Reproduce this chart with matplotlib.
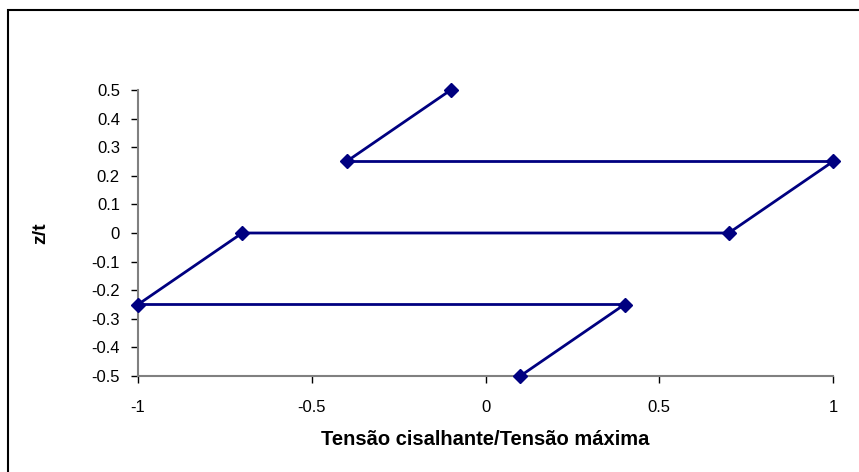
import matplotlib
matplotlib.use("Agg")
import matplotlib.pyplot as plt
from matplotlib.patches import Rectangle

# Data
shear_ratio = [-0.1, -0.4, 1.0, 0.7, -0.7, -1.0, 0.4, 0.1]
z_over_t = [0.5, 0.25, 0.25, 0.0, 0.0, -0.25, -0.25, -0.5]
x_ticks = [-1, -0.5, 0, 0.5, 1]
x_tick_labels = ["-1", "-0.5", "0", "0.5", "1"]
y_ticks = [0.5, 0.4, 0.3, 0.2, 0.1, 0.0, -0.1, -0.2, -0.3, -0.4, -0.5]
y_tick_labels = ["0.5", "0.4", "0.3", "0.2", "0.1", "0", "-0.1", "-0.2", "-0.3", "-0.4", "-0.5"]

W, H = 859, 472
plt.rcParams['font.family'] = ['Liberation Sans', 'DejaVu Sans']
fig = plt.figure(figsize=(W / 100, H / 100), dpi=100)

# figure border (cropped on right/bottom)
fig.patches.append(Rectangle((8 / W, -0.05), 1.2, (H - 10) / H + 0.05,
                             transform=fig.transFigure, fill=False,
                             edgecolor='black', linewidth=1.5))

ax = fig.add_axes([138 / W, (H - 376) / H, (833 - 138) / W, (376 - 90) / H])
ax.plot(shear_ratio, z_over_t, color='#000080', linewidth=2,
        marker='D', markersize=7, markerfacecolor='#000080',
        markeredgecolor='#000080', clip_on=False, zorder=5)

ax.set_xlim(-1, 1)
ax.set_ylim(-0.5, 0.5)
ax.set_xticks(x_ticks)
ax.set_xticklabels(x_tick_labels)
ax.set_yticks(y_ticks)
ax.set_yticklabels(y_tick_labels)

for s in ['top', 'right']:
    ax.spines[s].set_visible(False)
for s in ['left', 'bottom']:
    ax.spines[s].set_color('#808080')
    ax.spines[s].set_linewidth(1.5)

ax.tick_params(axis='y', direction='out', length=5, width=1, color='black',
               labelsize=12, pad=8)
ax.tick_params(axis='x', direction='out', length=5, width=1, color='black',
               labelsize=12, pad=12)

ax.set_xlabel("Tensão cisalhante/Tensão máxima", fontsize=14.5, fontweight='bold',
              labelpad=11)
ax.set_ylabel("z/t", fontsize=14, fontweight='bold', labelpad=30)

fig.savefig("out.png", dpi=100)
